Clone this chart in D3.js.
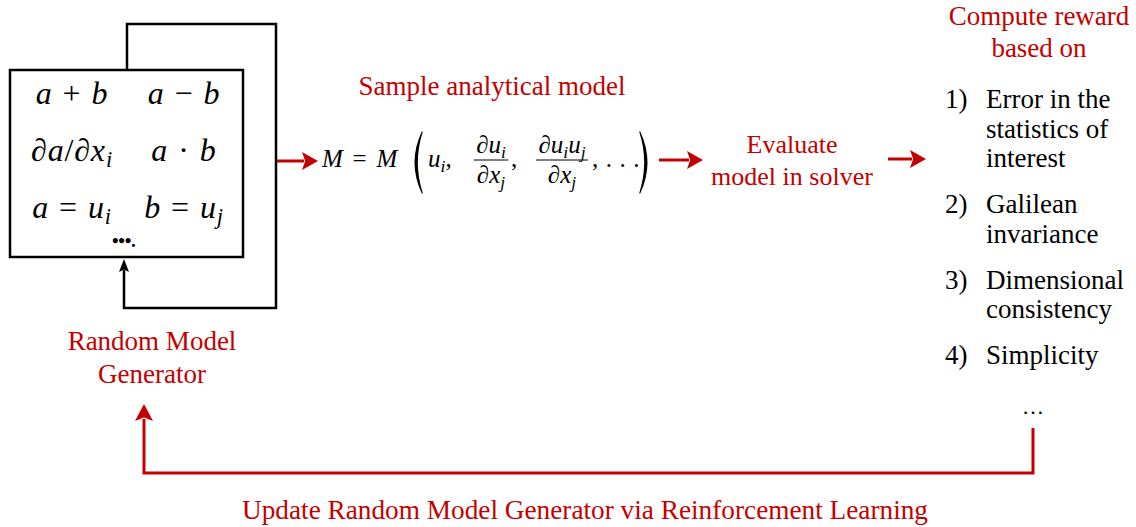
<!DOCTYPE html>
<html><head><meta charset="utf-8">
<script src="https://cdn.jsdelivr.net/npm/d3@7"></script>
<style>body{margin:0;background:#fff}svg{display:block}</style>
</head><body><svg id="c" width="1136" height="527"></svg>
<script>
// ---------- content ----------
const generatorOps = [["a + b", "a − b"], ["∂a/∂x_i", "a · b"], ["a = u_i", "b = u_j"]];
const generatorEllipsis = "•••.";
const generatorLabel = ["Random Model", "Generator"];
const sampleLabel = ["Sample analytical model"];
const evaluateLabel = ["Evaluate", "model in solver"];
const rewardTitle = ["Compute reward", "based on"];
const rewardNumbers = ["1)", "2)", "3)", "4)"];
const rewardCriteria = [["Error in the", "statistics of", "interest"], ["Galilean", "invariance"], ["Dimensional", "consistency"], ["Simplicity"]];
const rewardEllipsis = "…";
const feedbackLabel = "Update Random Model Generator via Reinforcement Learning";
const modelLhs = "M = M";
const modelArgs = ["u_i,", {num: "∂u_i", den: "∂x_j"}, ",", {num: "∂u_iu_j", den: "∂x_j"}, ", . . ."];

// ---------- styles ----------
const RED = "#c40000";
const SERIF = "'Liberation Serif','Times New Roman',serif";
const svg = d3.select("#c");

// mini math typesetter: letters italic, _x subscript, spaces widened
function math(sel, str, size, gap) {
  let up = 0, dx = 0;
  gap = gap == null ? 0.12 : gap;
  for (let k = 0; k < str.length; k++) {
    const ch = str[k];
    if (ch === "_") {
      const s = str[++k];
      sel.append("tspan").attr("font-size", size * 0.7).attr("dy", size * 0.2)
        .style("font-style", "italic").text(s);
      up += size * 0.2;
      continue;
    }
    const italic = /[A-Za-z∂]/.test(ch);
    const ts = sel.append("tspan").style("font-style", italic ? "italic" : "normal")
      .text(ch === " " ? "\u00a0" : ch);
    if (up) { ts.attr("dy", -up); up = 0; }
    if (dx) { ts.attr("dx", dx); dx = 0; }
    if (ch === " ") dx = size * gap;
  }
  return sel;
}

function arrow(pts, color, width, headLen, headHalf) {
  const line = d3.line();
  const n = pts.length;
  const [xa, ya] = pts[n - 2], [xb, yb] = pts[n - 1];
  const L = Math.hypot(xb - xa, yb - ya), ux = (xb - xa) / L, uy = (yb - ya) / L;
  const bx = xb - ux * headLen, by = yb - uy * headLen;
  const shaft = pts.slice(0, n - 1).concat([[bx + ux * 2, by + uy * 2]]);
  svg.append("path").attr("d", line(shaft)).attr("fill", "none")
    .attr("stroke", color).attr("stroke-width", width).attr("stroke-linejoin", "miter");
  svg.append("path").attr("d", line([[xb, yb], [bx - uy * headHalf, by + ux * headHalf], [bx + ux * headLen * 0.2, by + uy * headLen * 0.2], [bx + uy * headHalf, by - ux * headHalf]]) + "Z")
    .attr("fill", color);
}

function label(lines, cx, y0, lh, size, color, anchor) {
  const t = svg.append("g");
  lines.forEach((s, i) => t.append("text").attr("x", cx).attr("y", y0 + i * lh)
    .attr("font-family", SERIF).attr("font-size", size).attr("fill", color)
    .attr("text-anchor", anchor || "middle").text(s));
  return t;
}

// ---------- generator box ----------
const box = {x: 10, y: 70, w: 233, h: 187};
svg.append("rect").attr("x", box.x).attr("y", box.y).attr("width", box.w).attr("height", box.h)
  .attr("fill", "none").attr("stroke", "#000").attr("stroke-width", 2.5);

const colX = d3.scalePoint().domain([0, 1]).range([72, 184]);
const rowY = d3.scalePoint().domain([0, 1, 2]).range([104, 218]);
generatorOps.forEach((row, r) => row.forEach((op, c) => {
  const t = svg.append("text").attr("x", colX(c)).attr("y", rowY(r))
    .attr("font-family", SERIF).attr("font-size", 32).attr("letter-spacing", 0.8)
    .attr("text-anchor", "middle");
  math(t, op, 32, 0.04);
}));
svg.append("text").attr("x", 112).attr("y", 247).attr("font-family", SERIF)
  .attr("font-size", 19).attr("font-weight", "bold").attr("letter-spacing", -0.3).text(generatorEllipsis);

// black loop
arrow([[127, box.y], [127, 24], [276, 24], [276, 308], [124, 308], [124, box.y + box.h + 2]], "#000", 2.5, 13, 5);

label(generatorLabel, 152, 350, 33, 27, RED);

// ---------- model equation ----------
arrow([[277, 161], [318, 161]], RED, 3, 16, 9);
label(sampleLabel, 492, 95, 0, 27, RED);

const EQ = 25, base = 167;
math(svg.append("text").attr("x", 322).attr("y", base).attr("font-family", SERIF).attr("font-size", EQ), modelLhs, EQ, 0.14);

function paren(x0, x1, y0, y1) {
  const ym = (y0 + y1) / 2;
  const d = x1 > x0 ? 0.7 : -0.7;
  return `M${x1},${y0} Q${x0 - 3 * Math.sign(x1 - x0)},${ym} ${x1},${y1} L${x1 + d},${y1 - 1} Q${x0 + 3 * Math.sign(x1 - x0)},${ym} ${x1 + d},${y0 + 1} Z`;
}
svg.append("path").attr("d", paren(410, 422, 131, 194)).attr("fill", "#000");
svg.append("path").attr("d", paren(652, 640, 131, 194)).attr("fill", "#000");

const argX = [428, 491, 511, 562, 592];
modelArgs.forEach((a, i) => {
  if (typeof a === "string") {
    math(svg.append("text").attr("x", argX[i]).attr("y", base).attr("font-family", SERIF).attr("font-size", EQ), a, EQ, 0.05);
  } else {
    const num = svg.append("text").attr("x", argX[i]).attr("y", 153).attr("text-anchor", "middle")
      .attr("font-family", SERIF).attr("font-size", EQ);
    math(num, a.num, EQ);
    const den = svg.append("text").attr("x", argX[i]).attr("y", 183).attr("text-anchor", "middle")
      .attr("font-family", SERIF).attr("font-size", EQ);
    math(den, a.den, EQ);
    const w = Math.max(num.node().getComputedTextLength(), den.node().getComputedTextLength()) + 5;
    svg.append("line").attr("x1", argX[i] - w / 2).attr("x2", argX[i] + w / 2)
      .attr("y1", 160).attr("y2", 160).attr("stroke", "#000").attr("stroke-width", 1);
  }
});

// ---------- evaluate ----------
arrow([[659, 160], [703, 160]], RED, 3, 16, 9);
label(evaluateLabel, 792, 153, 32, 26, RED);
arrow([[888, 159], [926, 159]], RED, 3, 16, 9);

// ---------- reward ----------
label(rewardTitle, 1039, 25, 32, 27, RED);
let line = 0;
rewardCriteria.forEach((lines, i) => {
  const y0 = 108 + line * 29.5 + i * 16.5;
  svg.append("text").attr("x", 945).attr("y", y0).attr("font-family", SERIF).attr("font-size", 27).text(rewardNumbers[i]);
  label(lines, 986, y0, 29.5, 27, "#000", "start");
  line += lines.length;
});
svg.append("text").attr("x", 1033).attr("y", 414).attr("text-anchor", "middle")
  .attr("font-family", SERIF).attr("font-size", 22).text(rewardEllipsis);

// ---------- feedback loop ----------
arrow([[1033, 428], [1033, 473], [144, 473], [144, 404]], RED, 3, 17, 9);
svg.append("text").attr("x", 585).attr("y", 519).attr("text-anchor", "middle")
  .attr("font-family", SERIF).attr("font-size", 27).attr("fill", RED)
  .attr("textLength", 686).attr("lengthAdjust", "spacingAndGlyphs").text(feedbackLabel);
</script></body></html>
